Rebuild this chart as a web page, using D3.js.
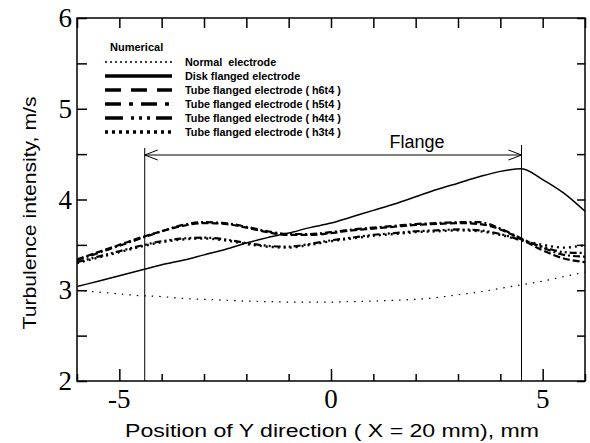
<!DOCTYPE html>
<html>
<head>
<meta charset="utf-8">
<script src="https://cdn.jsdelivr.net/npm/d3@7"></script>
<style>
  body { margin: 0; background: #fff; }
  svg { display: block; }
  text { white-space: pre; }
</style>
</head>
<body>
<div id="chart"></div>
<script>
// positions (mm) shared by all curves
const positions = [-6, -5.5, -5, -4.5, -4, -3.5, -3, -2.5, -2, -1.5, -1, -0.5, 0,
                   0.5, 1, 1.5, 2, 2.5, 3, 3.5, 4, 4.5, 5, 5.5, 6];

const normalElectrode = [3.00, 2.98, 2.96, 2.94, 2.93, 2.91, 2.90, 2.89, 2.88, 2.875, 2.87, 2.87, 2.87,
                         2.875, 2.88, 2.89, 2.90, 2.92, 2.95, 2.98, 3.02, 3.06, 3.10, 3.15, 3.20];
const diskFlanged = [3.04, 3.10, 3.16, 3.22, 3.28, 3.33, 3.39, 3.45, 3.52, 3.58, 3.63, 3.69, 3.74,
                     3.81, 3.88, 3.95, 4.03, 4.11, 4.18, 4.25, 4.31, 4.34, 4.22, 4.07, 3.87];
const tubeH6t4 = [3.34, 3.42, 3.50, 3.58, 3.65, 3.71, 3.74, 3.73, 3.69, 3.64, 3.61, 3.61, 3.63,
                  3.66, 3.68, 3.70, 3.72, 3.73, 3.74, 3.73, 3.67, 3.56, 3.44, 3.35, 3.31];
const tubeH5t4 = [3.33, 3.41, 3.49, 3.57, 3.65, 3.72, 3.75, 3.74, 3.70, 3.65, 3.62, 3.62, 3.64,
                  3.67, 3.69, 3.71, 3.73, 3.74, 3.75, 3.75, 3.68, 3.57, 3.47, 3.39, 3.37];
const tubeH4t4 = [3.31, 3.37, 3.43, 3.49, 3.54, 3.57, 3.58, 3.56, 3.52, 3.49, 3.48, 3.51, 3.55,
                  3.58, 3.61, 3.63, 3.65, 3.66, 3.67, 3.66, 3.62, 3.55, 3.48, 3.42, 3.41];
const tubeH3t4 = [3.30, 3.36, 3.42, 3.48, 3.53, 3.56, 3.57, 3.55, 3.51, 3.48, 3.47, 3.50, 3.54,
                  3.57, 3.60, 3.62, 3.64, 3.65, 3.66, 3.65, 3.61, 3.55, 3.50, 3.47, 3.50];

const legendLabels = ["Normal  electrode", "Disk flanged electrode",
  "Tube flanged electrode ( h6t4 )", "Tube flanged electrode ( h5t4 )",
  "Tube flanged electrode ( h4t4 )", "Tube flanged electrode ( h3t4 )"];

const xTicks = [-5, 0, 5];
const yTicks = [2, 3, 4, 5, 6];
const flangeRange = [-4.4, 4.5];

const series = [
  {values: normalElectrode, width: 1.2, dash: "1.5,6", legWidth: 1.5, legDash: "2,3"},
  {values: diskFlanged, width: 1.5, dash: null, legWidth: 3.5, legDash: null},
  {values: tubeH6t4, width: 2.2, dash: "7,3", legWidth: 3.5, legDash: "16,10"},
  {values: tubeH5t4, width: 2.2, dash: "7,3,2,3", legWidth: 3.5, legDash: "16,8,4,8"},
  {values: tubeH4t4, width: 2.2, dash: "7,3,2,3,2,3", legWidth: 3.5, legDash: "18,8,3,5,3,5,3,6"},
  {values: tubeH3t4, width: 2.4, dash: "2,4", legWidth: 3.5, legDash: "3,4"}
];

const W = 590, H = 443;
const margin = {top: 18, right: 5, bottom: 62, left: 77};
const width = W - margin.left - margin.right;
const height = H - margin.top - margin.bottom;

const svg = d3.select('#chart').append('svg')
    .attr('width', W)
    .attr('height', H);

const x = d3.scaleLinear().domain([-6, 6]).range([0, width]);
const y = d3.scaleLinear().domain([2, 6]).range([height, 0]);

const g = svg.append('g')
    .attr('transform', `translate(${margin.left},${margin.top})`);

svg.append('defs').append('clipPath').attr('id', 'plot-clip')
  .append('rect').attr('width', width).attr('height', height);

// curves
const line = d3.line()
    .x((d, i) => x(positions[i]))
    .y(d => y(d))
    .curve(d3.curveMonotoneX);

g.append('g').attr('clip-path', 'url(#plot-clip)')
  .selectAll('path')
  .data(series)
  .enter().append('path')
    .attr('d', d => line(d.values))
    .attr('fill', 'none')
    .attr('stroke', '#000')
    .attr('stroke-width', d => d.width)
    .attr('stroke-dasharray', d => d.dash);

// ticks (inward)
const unitTicks = d3.range(-6, 6.01, 1);
const halfTicks = d3.range(2, 6.01, 0.5);

const bottomAxis = g.append('g')
    .attr('transform', `translate(0,${height})`)
    .call(d3.axisBottom(x).tickValues(unitTicks).tickSize(-7).tickFormat(''));
bottomAxis.selectAll('.tick line').attr('y2', d => xTicks.includes(d) ? -12 : -7);

g.append('g')
    .call(d3.axisTop(x).tickValues(unitTicks).tickSize(-10).tickFormat(''));
g.append('g')
    .call(d3.axisLeft(y).tickValues(halfTicks).tickSize(-10).tickFormat(''));
g.append('g')
    .attr('transform', `translate(${width},0)`)
    .call(d3.axisRight(y).tickValues(halfTicks).tickSize(-8).tickFormat(''));

g.selectAll('.domain').remove();
g.selectAll('.tick line').attr('stroke', '#000').attr('stroke-width', 1.5);

g.append('rect')
    .attr('width', width)
    .attr('height', height)
    .attr('fill', 'none')
    .attr('stroke', '#000')
    .attr('stroke-width', 1.5);

// tick labels
g.selectAll('.xlab')
  .data(xTicks)
  .enter().append('text')
    .attr('x', d => x(d))
    .attr('y', height + 27)
    .attr('text-anchor', 'middle')
    .style('font-family', '"Liberation Serif", "Times New Roman", serif')
    .style('font-size', '27px')
    .text(d => d);

g.selectAll('.ylab')
  .data(yTicks)
  .enter().append('text')
    .attr('x', -5)
    .attr('y', d => y(d) + 9)
    .attr('text-anchor', 'end')
    .style('font-family', '"Liberation Serif", "Times New Roman", serif')
    .style('font-size', '27px')
    .text(d => d);

// axis titles
svg.append('text')
    .attr('x', 332)
    .attr('y', 437)
    .attr('text-anchor', 'middle')
    .attr('textLength', 414)
    .attr('lengthAdjust', 'spacingAndGlyphs')
    .style('font-family', '"Liberation Sans", Arial, sans-serif')
    .style('font-size', '18px')
    .text('Position of Y direction ( X = 20 mm), mm');

svg.append('text')
    .attr('transform', 'translate(36,213) rotate(-90)')
    .attr('text-anchor', 'middle')
    .attr('textLength', 233)
    .attr('lengthAdjust', 'spacingAndGlyphs')
    .style('font-family', '"Liberation Sans", Arial, sans-serif')
    .style('font-size', '18px')
    .text('Turbulence intensity, m/s');

// flange annotation
const arrowY = 155 - margin.top;
flangeRange.forEach((f, i) => {
  g.append('line')
      .attr('x1', x(f)).attr('x2', x(f))
      .attr('y1', i === 0 ? 148 - margin.top : 145 - margin.top)
      .attr('y2', height)
      .attr('stroke', '#000').attr('stroke-width', 1);
});
g.append('line')
    .attr('x1', x(flangeRange[0])).attr('x2', x(flangeRange[1]))
    .attr('y1', arrowY).attr('y2', arrowY)
    .attr('stroke', '#000').attr('stroke-width', 1);
[[flangeRange[0], 1], [flangeRange[1], -1]].forEach(([f, dir]) => {
  const tip = x(f);
  g.append('path')
      .attr('d', `M${tip + dir * 13},${arrowY - 5}L${tip},${arrowY}L${tip + dir * 13},${arrowY + 5}`)
      .attr('fill', 'none')
      .attr('stroke', '#000').attr('stroke-width', 1);
});
g.append('text')
    .attr('x', 417 - margin.left)
    .attr('y', 148 - margin.top)
    .attr('text-anchor', 'middle')
    .style('font-family', '"Liberation Sans", Arial, sans-serif')
    .style('font-size', '18px')
    .text('Flange');

// legend
const legend = svg.append('g');
legend.append('text')
    .attr('x', 110)
    .attr('y', 51)
    .style('font-family', '"Liberation Sans", Arial, sans-serif')
    .style('font-size', '11px')
    .style('font-weight', 'bold')
    .text('Numerical');

const rows = legend.selectAll('.row')
  .data(series)
  .enter().append('g')
    .attr('transform', (d, i) => `translate(0,${62 + i * 14})`);
rows.append('line')
    .attr('x1', 105).attr('x2', 172)
    .attr('stroke', '#000')
    .attr('stroke-width', d => d.legWidth)
    .attr('stroke-dasharray', d => d.legDash);
rows.append('text')
    .attr('x', 185)
    .attr('y', 4)
    .style('font-family', '"Liberation Sans", Arial, sans-serif')
    .style('font-size', '10.8px')
    .style('font-weight', 'bold')
    .text((d, i) => legendLabels[i]);
</script>
</body>
</html>
